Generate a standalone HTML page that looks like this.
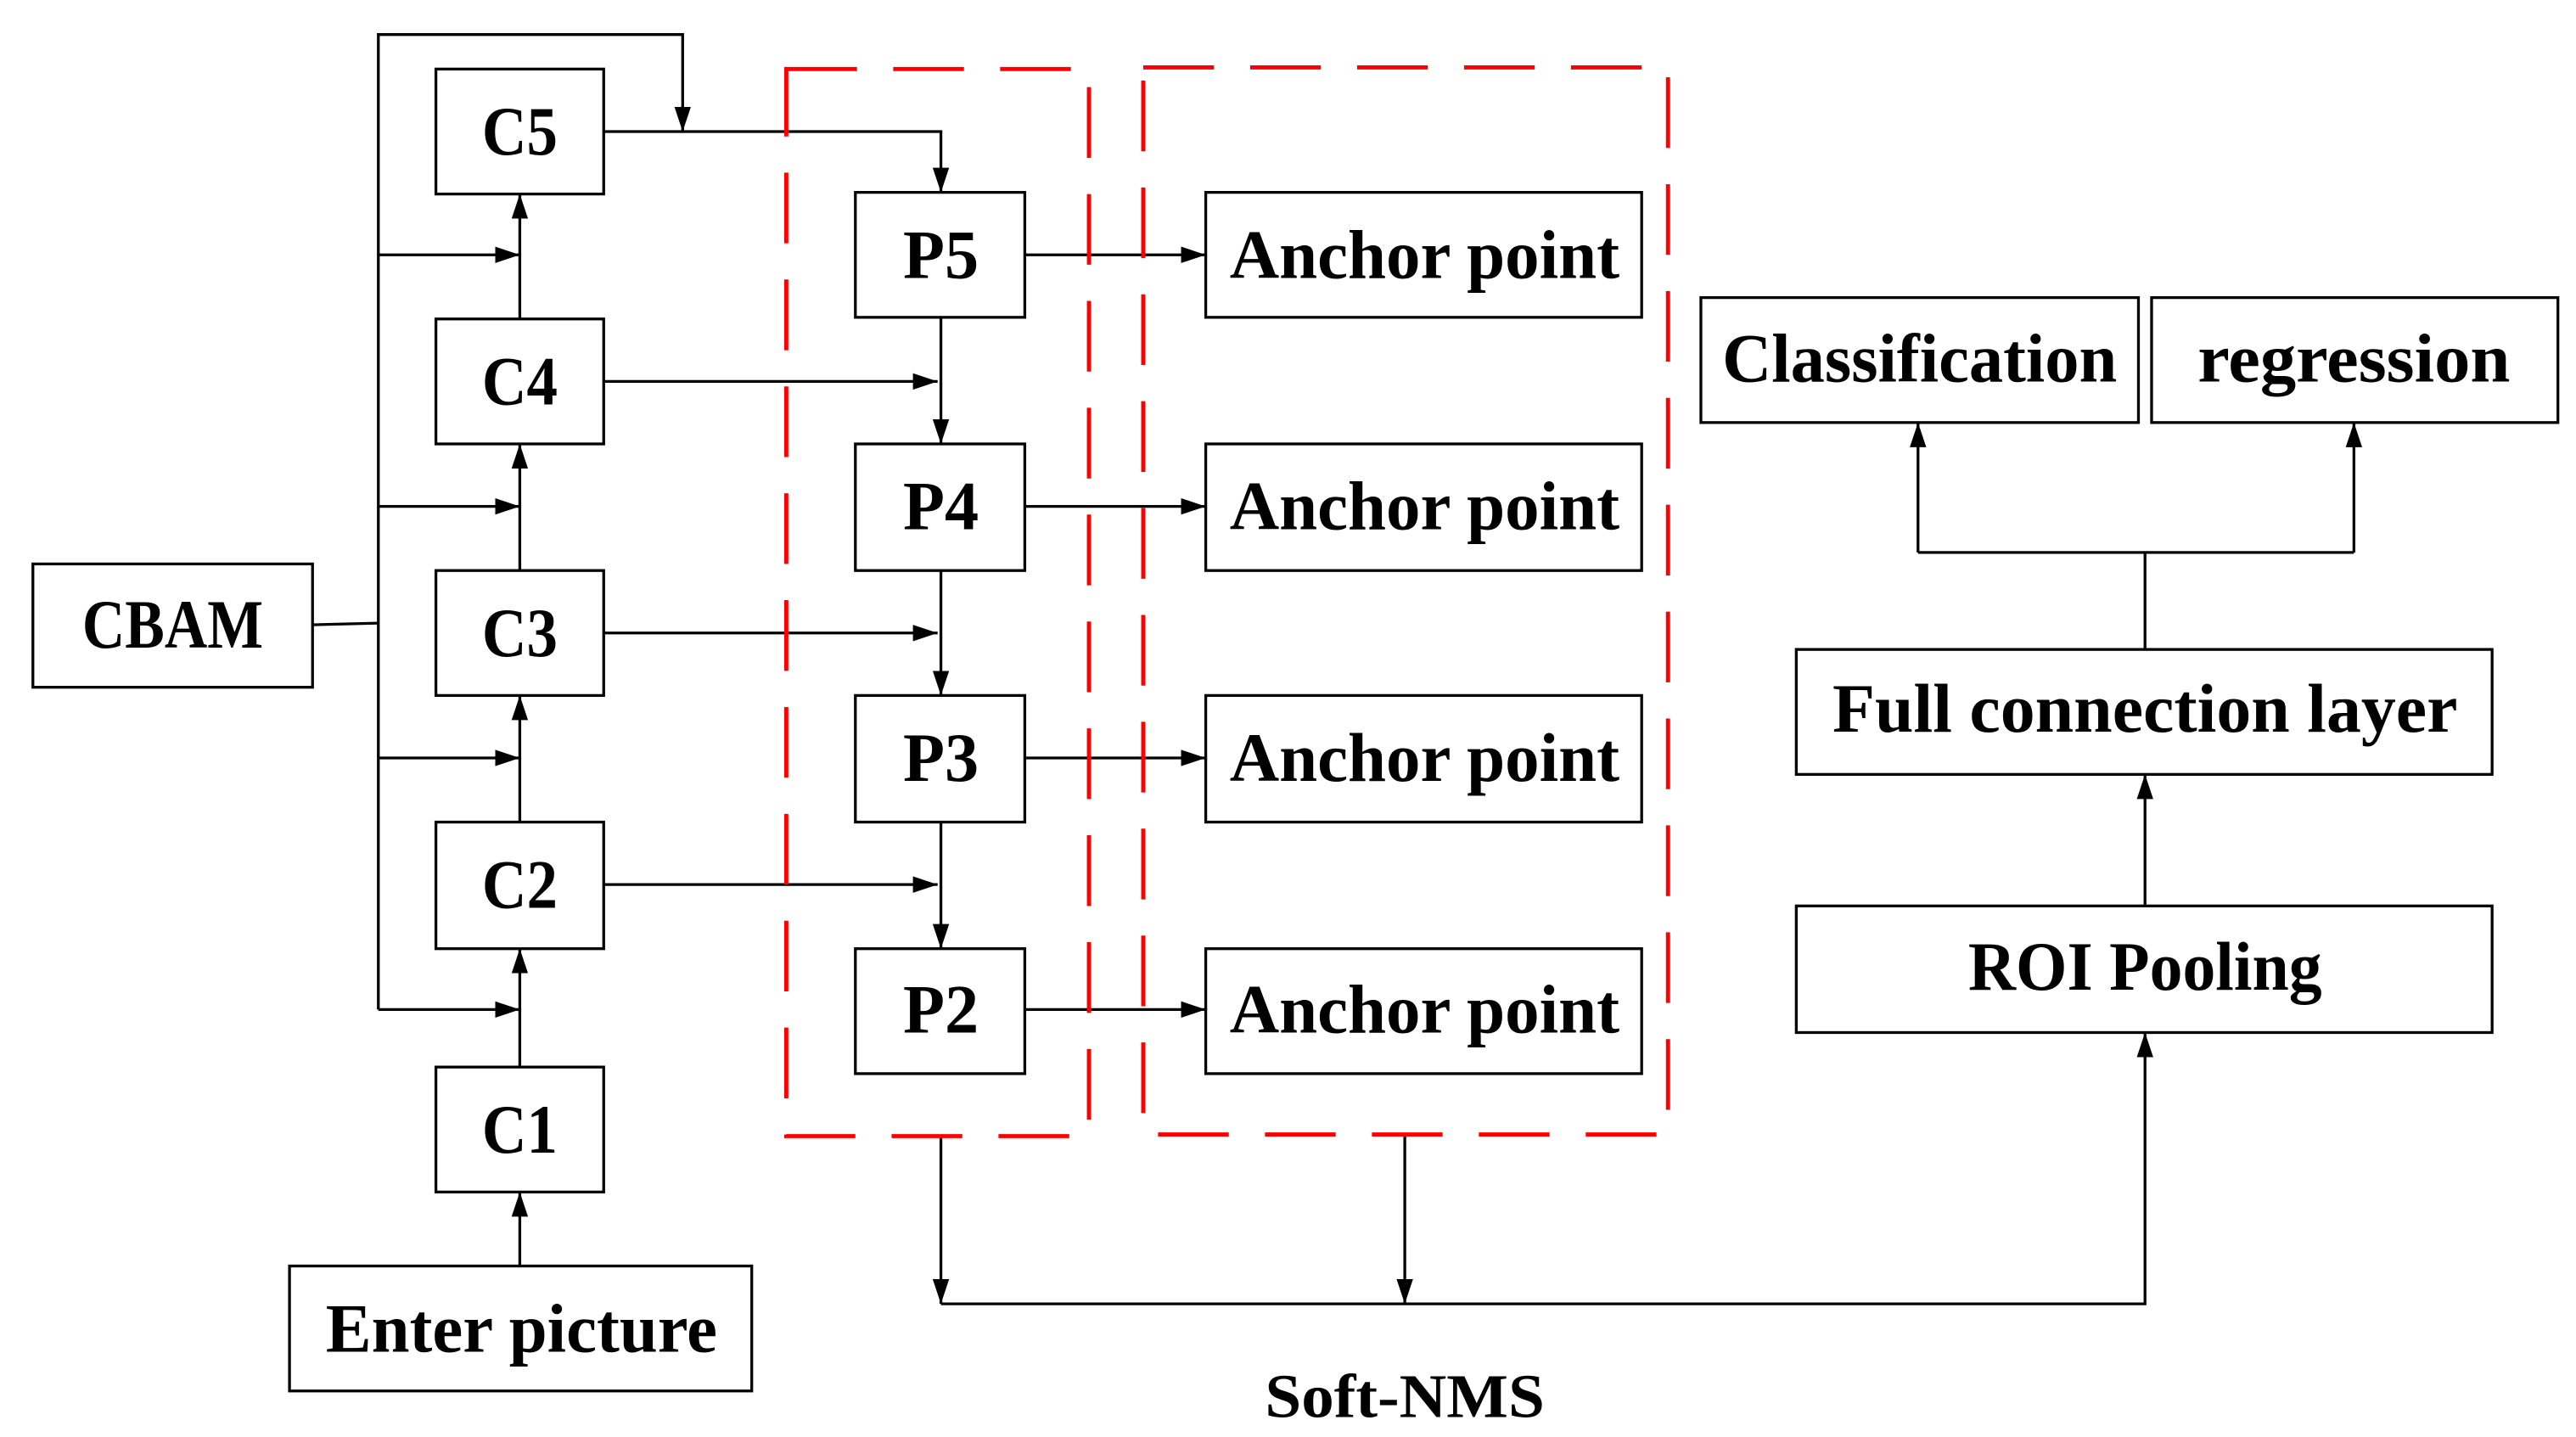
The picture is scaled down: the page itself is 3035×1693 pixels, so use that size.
<!DOCTYPE html>
<html><head><meta charset="utf-8"><style>
html,body{margin:0;padding:0;background:#fff;}
svg{display:block;}
text{font-family:"Liberation Serif",serif;fill:#000;font-weight:bold;}
</style></head><body>
<svg width="3035" height="1693" viewBox="0 0 1566 874" preserveAspectRatio="none" xmlns="http://www.w3.org/2000/svg">
<defs>
<marker id="a" markerWidth="15" markerHeight="10" refX="15" refY="5" orient="auto" markerUnits="userSpaceOnUse">
<path d="M0,0 L15,5 L0,10 Z" fill="#000"/>
</marker>
</defs>
<g fill="none" stroke="#000" stroke-width="1.7">
<rect x="20" y="343" width="170" height="75"/>
<rect x="265" y="42" width="102" height="76"/>
<rect x="265" y="194" width="102" height="76"/>
<rect x="265" y="347" width="102" height="76"/>
<rect x="265" y="500" width="102" height="77"/>
<rect x="265" y="649" width="102" height="76"/>
<rect x="176" y="770" width="281" height="76"/>
<rect x="520" y="117" width="103" height="76"/>
<rect x="520" y="270" width="103" height="77"/>
<rect x="520" y="423" width="103" height="77"/>
<rect x="520" y="577" width="103" height="76"/>
<rect x="733" y="117" width="265" height="76"/>
<rect x="733" y="270" width="265" height="77"/>
<rect x="733" y="423" width="265" height="77"/>
<rect x="733" y="577" width="265" height="76"/>
<rect x="1034" y="181" width="266" height="76"/>
<rect x="1308" y="181" width="247" height="76"/>
<rect x="1092" y="395" width="423" height="76"/>
<rect x="1092" y="551" width="423" height="77"/>

<polyline points="230,614 230,21 415,21 415,80" marker-end="url(#a)"/>
<line x1="190" y1="380" x2="230" y2="379"/>
<line x1="230" y1="155" x2="316" y2="155" marker-end="url(#a)"/>
<line x1="230" y1="308" x2="316" y2="308" marker-end="url(#a)"/>
<line x1="230" y1="461" x2="316" y2="461" marker-end="url(#a)"/>
<line x1="230" y1="614" x2="316" y2="614" marker-end="url(#a)"/>
<line x1="316" y1="770" x2="316" y2="725" marker-end="url(#a)"/>
<line x1="316" y1="649" x2="316" y2="577" marker-end="url(#a)"/>
<line x1="316" y1="500" x2="316" y2="423" marker-end="url(#a)"/>
<line x1="316" y1="347" x2="316" y2="270" marker-end="url(#a)"/>
<line x1="316" y1="194" x2="316" y2="118" marker-end="url(#a)"/>
<polyline points="367,80 572,80 572,117" marker-end="url(#a)"/>
<line x1="367" y1="232" x2="570" y2="232" marker-end="url(#a)"/>
<line x1="367" y1="385" x2="570" y2="385" marker-end="url(#a)"/>
<line x1="367" y1="538" x2="570" y2="538" marker-end="url(#a)"/>
<line x1="572" y1="193" x2="572" y2="270" marker-end="url(#a)"/>
<line x1="572" y1="347" x2="572" y2="423" marker-end="url(#a)"/>
<line x1="572" y1="500" x2="572" y2="577" marker-end="url(#a)"/>
<line x1="623" y1="155" x2="733" y2="155" marker-end="url(#a)"/>
<line x1="623" y1="308" x2="733" y2="308" marker-end="url(#a)"/>
<line x1="623" y1="461" x2="733" y2="461" marker-end="url(#a)"/>
<line x1="623" y1="614" x2="733" y2="614" marker-end="url(#a)"/>
<line x1="572" y1="691" x2="572" y2="793" marker-end="url(#a)"/>
<line x1="854" y1="691" x2="854" y2="793" marker-end="url(#a)"/>
<polyline points="572,793 1304,793 1304,628" marker-end="url(#a)"/>
<line x1="1304" y1="551" x2="1304" y2="471" marker-end="url(#a)"/>
<line x1="1304" y1="395" x2="1304" y2="336"/>
<polyline points="1166,336 1431,336"/>
<line x1="1166" y1="336" x2="1166" y2="257" marker-end="url(#a)"/>
<line x1="1431" y1="336" x2="1431" y2="257" marker-end="url(#a)"/>
</g>
<g fill="none" stroke="#ff0000" stroke-width="2.5" stroke-dasharray="43 22">
<rect x="478" y="42" width="184" height="649"/>
<rect x="695" y="41" width="319" height="649"/>
</g>
<g font-size="42" text-anchor="middle">
<text x="105" y="394" textLength="110" lengthAdjust="spacingAndGlyphs">CBAM</text>
<text x="316" y="94" textLength="46" lengthAdjust="spacingAndGlyphs">C5</text>
<text x="316" y="246" textLength="46" lengthAdjust="spacingAndGlyphs">C4</text>
<text x="316" y="399" textLength="46" lengthAdjust="spacingAndGlyphs">C3</text>
<text x="316" y="552" textLength="46" lengthAdjust="spacingAndGlyphs">C2</text>
<text x="316" y="701" textLength="46" lengthAdjust="spacingAndGlyphs">C1</text>
<text x="317" y="822" textLength="238" lengthAdjust="spacingAndGlyphs">Enter picture</text>
<text x="572" y="169" textLength="46" lengthAdjust="spacingAndGlyphs">P5</text>
<text x="572" y="322" textLength="46" lengthAdjust="spacingAndGlyphs">P4</text>
<text x="572" y="475" textLength="46" lengthAdjust="spacingAndGlyphs">P3</text>
<text x="572" y="628" textLength="46" lengthAdjust="spacingAndGlyphs">P2</text>
<text x="866" y="169" textLength="237" lengthAdjust="spacingAndGlyphs">Anchor point</text>
<text x="866" y="322" textLength="237" lengthAdjust="spacingAndGlyphs">Anchor point</text>
<text x="866" y="475" textLength="237" lengthAdjust="spacingAndGlyphs">Anchor point</text>
<text x="866" y="628" textLength="237" lengthAdjust="spacingAndGlyphs">Anchor point</text>
<text x="1167" y="232" textLength="240" lengthAdjust="spacingAndGlyphs">Classification</text>
<text x="1431" y="232" textLength="190" lengthAdjust="spacingAndGlyphs">regression</text>
<text x="1304" y="445" textLength="380" lengthAdjust="spacingAndGlyphs">Full connection layer</text>
<text x="1304" y="602" textLength="215" lengthAdjust="spacingAndGlyphs">ROI Pooling</text>
<text x="854" y="862" font-size="38" textLength="170" lengthAdjust="spacingAndGlyphs">Soft-NMS</text>
</g>
</svg>
</body></html>
